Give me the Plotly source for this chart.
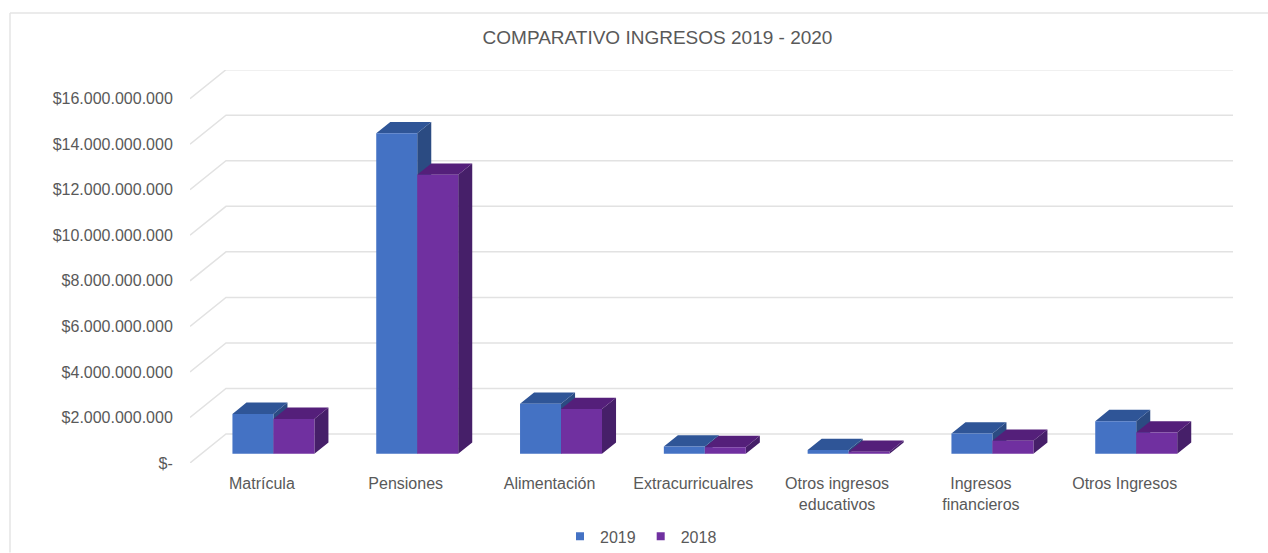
import plotly.graph_objects as go

categories = ["Matrícula", "Pensiones", "Alimentación", "Extracurricualres",
              "Otros ingresos<br>educativos", "Ingresos<br>financieros", "Otros Ingresos"]
values_2019 = [1.75e9, 14.07e9, 2.19e9, 0.32e9, 0.16e9, 0.89e9, 1.43e9]
values_2018 = [1.53e9, 12.25e9, 1.96e9, 0.29e9, 0.09e9, 0.57e9, 0.93e9]
series_names = ["2019", "2018"]
y_ticks = [0, 2e9, 4e9, 6e9, 8e9, 10e9, 12e9, 14e9, 16e9]
y_labels = ["$-", "$2.000.000.000", "$4.000.000.000", "$6.000.000.000", "$8.000.000.000",
            "$10.000.000.000", "$12.000.000.000", "$14.000.000.000", "$16.000.000.000"]

W, H = 1268, 553
LEFT, RIGHT_END, TOP, BOTTOM_END = 190, 1233, 70, 463.5
PX_PER_CAT = 143.8
PX_PER_VALUE = 22.8e-9
DEPTH_DX = 36 / PX_PER_CAT        # full wall depth in category units
DEPTH_DY = 29 / PX_PER_VALUE      # full wall depth in value units
BAR_W = 0.285
D_FRONT, D_BACK = 0.32, 0.71
X_MIN, X_MAX = -0.5, -0.5 + (RIGHT_END - LEFT) / PX_PER_CAT
Y_MAX = (BOTTOM_END - TOP) / PX_PER_VALUE

COLORS = {"2019": ("#4472c4", "#2f5597", "#2b4b82"), "2018": ("#7030a0", "#541f7a", "#461f69")}
GRID = "#e2e2e2"
TEXT = "#595959"


def proj(x, v, d):
    return x + d * DEPTH_DX, v + d * DEPTH_DY


def poly(points):
    return [p[0] for p in points] + [None], [p[1] for p in points] + [None]


fig = go.Figure()

# Floor-less 3D wall: diagonal side-wall lines and back-wall horizontal lines
gx, gy = [], []
for t in y_ticks:
    a = proj(X_MIN, t, 0)
    b = proj(X_MIN, t, 1)
    c = (X_MAX, b[1])
    gx += [a[0], b[0], c[0], None]
    gy += [a[1], b[1], c[1], None]
fig.add_trace(go.Scatter(x=gx, y=gy, mode="lines", line=dict(color=GRID, width=1.5), cliponaxis=False,
                         showlegend=False, hoverinfo="skip", zorder=0))

layer = 1
for name, vals, x_off in [("2019", values_2019, -BAR_W), ("2018", values_2018, 0.0)]:
    front, top_c, side_c = COLORS[name]
    tx, ty, sx, sy = [], [], [], []
    for i, v in enumerate(vals):
        l, r = i + x_off, i + x_off + BAR_W
        px, py = poly([proj(l, v, D_FRONT), proj(l, v, D_BACK), proj(r, v, D_BACK), proj(r, v, D_FRONT), proj(l, v, D_FRONT)])
        tx += px
        ty += py
        px, py = poly([proj(r, 0, D_FRONT), proj(r, 0, D_BACK), proj(r, v, D_BACK), proj(r, v, D_FRONT), proj(r, 0, D_FRONT)])
        sx += px
        sy += py
    fig.add_trace(go.Scatter(x=sx, y=sy, mode="lines", fill="toself", fillcolor=side_c,
                             line=dict(width=0, color=side_c), showlegend=False, legendgroup=name,
                             hoverinfo="skip", zorder=layer))
    fig.add_trace(go.Scatter(x=tx, y=ty, mode="lines", fill="toself", fillcolor=top_c,
                             line=dict(width=0, color=top_c), showlegend=False, legendgroup=name,
                             hoverinfo="skip", zorder=layer))
    fig.add_trace(go.Bar(x=[i + D_FRONT * DEPTH_DX for i in range(len(vals))], y=vals,
                         base=[D_FRONT * DEPTH_DY] * len(vals), width=BAR_W, offset=x_off,
                         marker=dict(color=front, line=dict(width=0)), name=name,
                         legendgroup=name, showlegend=False, customdata=categories,
                         hovertemplate="%{customdata}: %{y:$,.0f}<extra>" + name + "</extra>",
                         zorder=layer + 1))
    fig.add_trace(go.Scatter(x=[None], y=[None], mode="markers", name=name, legendgroup=name,
                             marker=dict(symbol="square", size=8, color=front)))
    layer += 2

# Frame of the picture: top and left edges only
plot_w = RIGHT_END - LEFT
plot_h = BOTTOM_END - TOP
frame = dict(type="line", xref="paper", yref="paper", layer="below", line=dict(color="#e4e4e4", width=1.5))
fx0 = (10 - LEFT) / plot_w
fx1 = (W - LEFT) / plot_w
fy_top = (BOTTOM_END - 13) / plot_h
fy_bot = (BOTTOM_END - H) / plot_h

fig.update_layout(
    width=W, height=H,
    margin=dict(l=LEFT, r=W - RIGHT_END, t=TOP, b=H - BOTTOM_END, pad=0, autoexpand=False),
    paper_bgcolor="white", plot_bgcolor="white",
    font=dict(family="Liberation Sans, Arial, sans-serif", color=TEXT, size=16),
    barmode="overlay",
    title=dict(text="COMPARATIVO INGRESOS 2019 - 2020", font=dict(size=19, color=TEXT),
               x=657.5 / W, xanchor="center", y=1 - 37 / H, yanchor="middle"),
    xaxis=dict(range=[X_MIN, X_MAX], tickmode="array", tickvals=list(range(len(categories))),
               ticktext=categories, showgrid=False, zeroline=False, showline=False,
               ticks="outside", ticklen=6, tickcolor="rgba(0,0,0,0)", tickfont=dict(size=16, color=TEXT)),
    yaxis=dict(range=[0, Y_MAX], tickmode="array", tickvals=y_ticks, ticktext=y_labels,
               showgrid=False, zeroline=False, showline=False,
               ticks="outside", ticklen=13, tickcolor="rgba(0,0,0,0)", tickfont=dict(size=16, color=TEXT)),
    legend=dict(orientation="h", x=(641 - LEFT) / plot_w, xanchor="center",
                y=(BOTTOM_END - 537) / plot_h, yanchor="middle", font=dict(size=16, color=TEXT),
                itemclick=False, itemdoubleclick=False, tracegroupgap=0),
    shapes=[dict(frame, x0=fx0, x1=fx1, y0=fy_top, y1=fy_top),
            dict(frame, x0=fx0, x1=fx0, y0=fy_top, y1=fy_bot)],
)

fig.write_html("out.html", config={"displayModeBar": False}, post_script="document.body.style.margin='0';")
